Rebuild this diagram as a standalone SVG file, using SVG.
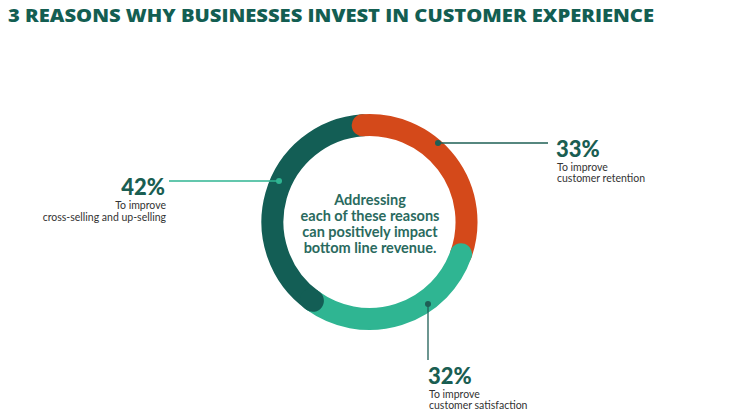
<svg xmlns="http://www.w3.org/2000/svg" width="741" height="419" viewBox="0 0 741 419">
<style>
.ring{fill:none;stroke-width:22;stroke-linecap:round}
.lead{stroke:#1e5f55;stroke-width:1.3;fill:none}
.pct{font-family:Lato,"Liberation Sans",sans-serif;font-weight:900;font-size:22px;fill:#1a5e52}
.sub{font-family:Lato,"Liberation Sans",sans-serif;font-size:10.5px;fill:#333}
.ctr{font-family:Lato,"Liberation Sans",sans-serif;font-weight:bold;font-size:14.5px;fill:#2a6a5e}
</style>
<rect width="741" height="419" fill="#fff"/>
<text x="8" y="22" font-family="'Open Sans','Liberation Sans',sans-serif" font-weight="800" font-size="18" fill="#135e52" textLength="646" lengthAdjust="spacingAndGlyphs">3 REASONS WHY BUSINESSES INVEST IN CUSTOMER EXPERIENCE</text>
<g id="donut">
<path class="ring" stroke="#135e55" d="M312.9,300.8 A97,97 0 0 1 362.7,125.2"/>
<path class="ring" stroke="#d4491a" d="M362.7,125.2 A97,97 0 0 1 461,254.2"/>
<path class="ring" stroke="#2fb592" d="M461,254.2 A97,97 0 0 1 312.9,300.8"/>
<path class="ring" stroke="#135e55" d="M312.9,300.8 A97,97 0 0 1 311,299.4"/>
<text class="ctr" text-anchor="middle"><tspan x="370" y="205">Addressing</tspan><tspan x="370" y="221">each of these reasons</tspan><tspan x="370" y="237">can positively impact</tspan><tspan x="370" y="253">bottom line revenue.</tspan></text>
</g>
<g id="connectors">
<line class="lead" x1="438" y1="143" x2="548" y2="143"/><circle cx="438" cy="143" r="3" fill="#1e5f55"/>
<line class="lead" style="stroke:#2fb592" x1="169" y1="181" x2="279" y2="181"/><circle cx="279" cy="181" r="3" fill="#2fb592"/>
<line class="lead" x1="428" y1="304" x2="428" y2="360"/><circle cx="428" cy="304" r="3" fill="#1e5f55"/>
</g>
<g id="n33"><text class="pct" x="556" y="157">33%</text><text class="sub"><tspan x="557" y="171">To improve</tspan><tspan x="557" y="182">customer retention</tspan></text></g>
<g id="n42"><text class="pct" x="165" y="195" text-anchor="end">42%</text><text class="sub" text-anchor="end"><tspan x="166" y="209">To improve</tspan><tspan x="166" y="221">cross-selling and up-selling</tspan></text></g>
<g id="n32"><text class="pct" x="428" y="384">32%</text><text class="sub"><tspan x="429" y="398">To improve</tspan><tspan x="429" y="409">customer satisfaction</tspan></text></g>
</svg>
